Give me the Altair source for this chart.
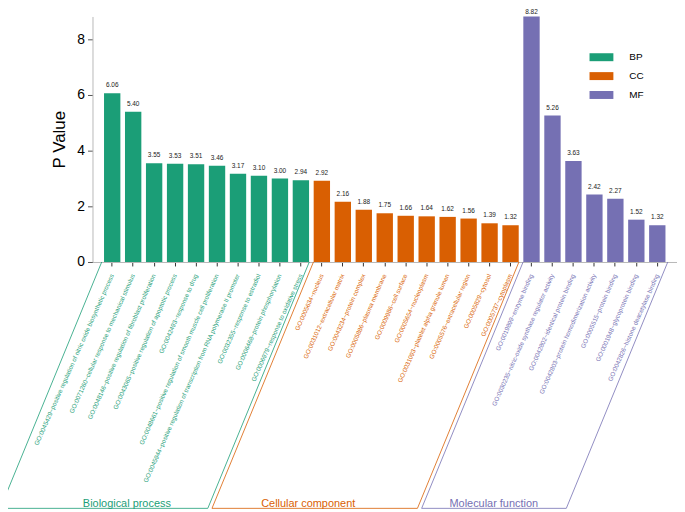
import json
import altair as alt
import pandas as pd

# ---------------- data ----------------
groups = ["BP", "CC", "MF"]
group_names = ["Biological process", "Cellular component", "Molecular function"]

terms_bp = [
    "GO:0045429~positive regulation of nitric oxide biosynthetic process",
    "GO:0071260~cellular response to mechanical stimulus",
    "GO:0048146~positive regulation of fibroblast proliferation",
    "GO:0043065~positive regulation of apoptotic process",
    "GO:0042493~response to drug",
    "GO:0048661~positive regulation of smooth muscle cell proliferation",
    "GO:0045944~positive regulation of transcription from RNA polymerase II promoter",
    "GO:0032355~response to estradiol",
    "GO:0006468~protein phosphorylation",
    "GO:0006979~response to oxidative stress",
]
values_bp = [6.06, 5.40, 3.55, 3.53, 3.51, 3.46, 3.17, 3.10, 3.00, 2.94]

terms_cc = [
    "GO:0005634~nucleus",
    "GO:0031012~extracellular matrix",
    "GO:0043234~protein complex",
    "GO:0005886~plasma membrane",
    "GO:0009986~cell surface",
    "GO:0005654~nucleoplasm",
    "GO:0031093~platelet alpha granule lumen",
    "GO:0005576~extracellular region",
    "GO:0005829~cytosol",
    "GO:0005737~cytoplasm",
]
values_cc = [2.92, 2.16, 1.88, 1.75, 1.66, 1.64, 1.62, 1.56, 1.39, 1.32]

terms_mf = [
    "GO:0019899~enzyme binding",
    "GO:0030235~nitric-oxide synthase regulator activity",
    "GO:0042802~identical protein binding",
    "GO:0042803~protein homodimerization activity",
    "GO:0005515~protein binding",
    "GO:0001948~glycoprotein binding",
    "GO:0042826~histone deacetylase binding",
]
values_mf = [8.82, 5.26, 3.63, 2.42, 2.27, 1.52, 1.32]

# where the group caption sits along the bottom of each bracket (bar-index units)
group_label_pos = [0.7, 9.35, 18.2]

# ---------------- style ----------------
colors = ["#1b9e77", "#d95f02", "#7570b3"]
FONT = "Liberation Sans"
W, H = 588, 247
P_IN, P_OUT = 0.22, 0.55
BRACKET_DX = 4.84      # horizontal lean of bracket sides (bar-index units)
BRACKET_DEPTH = 8.85   # depth of bracket below axis (y units)
GAP = 0.1

all_terms = terms_bp + terms_cc + terms_mf
all_vals = values_bp + values_cc + values_mf
all_groups = ["BP"] * len(terms_bp) + ["CC"] * len(terms_cc) + ["MF"] * len(terms_mf)
df = pd.DataFrame({"term": all_terms, "value": all_vals, "group": all_groups})
df["label"] = df["value"].map(lambda v: f"{v:.2f}")

ymax = max(all_vals)
yscale = alt.Scale(domain=[0, ymax], nice=False, zero=True)
color_scale = alt.Scale(domain=groups, range=colors)
xband = alt.Scale(domain=all_terms, paddingInner=P_IN, paddingOuter=P_OUT)

# bracket outlines
sizes = [len(terms_bp), len(terms_cc), len(terms_mf)]
rows = []
start = 0
for gi, (g, n) in enumerate(zip(groups, sizes)):
    left = start - 0.5 + (GAP if gi > 0 else 0)
    right = start + n - 0.5 - (GAP if gi < len(groups) - 1 else 0)
    pts = [(left, 0), (left - BRACKET_DX, -BRACKET_DEPTH),
           (right - BRACKET_DX, -BRACKET_DEPTH), (right, 0)]
    for k, (bx, by) in enumerate(pts):
        rows.append({"group": g, "ord": k, "bx": bx, "by": by})
    start += n
bdf = pd.DataFrame(rows)
gdf = pd.DataFrame({"group": groups, "name": group_names,
                    "bx": group_label_pos, "by": [-BRACKET_DEPTH] * 3})

n_all = len(all_terms)
lo = -(P_OUT + 0.5 - P_IN / 2)
hi = n_all - 0.5 + P_OUT - P_IN / 2
xlin = alt.Scale(domain=[lo, hi], nice=False, zero=False)

label_color = {
    "condition": [
        {"test": "indexof(" + json.dumps(terms_bp) + ", datum.value) >= 0", "value": colors[0]},
        {"test": "indexof(" + json.dumps(terms_cc) + ", datum.value) >= 0", "value": colors[1]},
    ],
    "value": colors[2],
}

xaxis = alt.Axis(
    title=None, labelAngle=294, labelAlign="right", labelBaseline="middle",
    labelFontSize=6.3, labelFont=FONT, labelLimit=400, labelPadding=8,
    labelColor=label_color, tickSize=4, tickColor="#333333",
    domainColor="#b8b8b8", labelOverlap=False,
)
yaxis = alt.Axis(
    title="P Value", values=[0, 2, 4, 6, 8], grid=False, labelFontSize=14,
    labelFont=FONT, titleFont=FONT, titleFontSize=17, titleFontWeight="normal",
    titleColor="black", labelColor="black", tickSize=5, tickColor="#555555",
    domainColor="#b8b8b8", labelPadding=3, titlePadding=8,
)

bars = alt.Chart(df).mark_bar().encode(
    x=alt.X("term:N", scale=xband, sort=None, axis=xaxis),
    y=alt.Y("value:Q", scale=yscale, axis=yaxis),
    color=alt.Color("group:N", scale=color_scale, legend=alt.Legend(
        title=None, orient="none", legendX=504, legendY=33, padding=0,
        symbolType="M-1.5,-0.5H1.5V0.5H-1.5Z", symbolSize=256,
        symbolStrokeWidth=0, labelFontSize=10, labelFont=FONT,
        labelColor="black", labelOffset=20, rowPadding=6)),
)
text_base = alt.Chart(df).encode(
    x=alt.X("term:N", scale=xband, sort=None, axis=xaxis),
    y=alt.Y("value:Q", scale=yscale, axis=yaxis),
    text="label:N",
)
vals = text_base.transform_filter(f"datum.value < {ymax}").mark_text(
    fontSize=6.5, font=FONT, color="#222222", baseline="middle", dy=-8)
vals_top = text_base.transform_filter(f"datum.value >= {ymax}").mark_text(
    fontSize=6.5, font=FONT, color="#222222", baseline="middle", dy=-4)

brackets = alt.Chart(bdf).mark_line(strokeWidth=0.8, clip=False).encode(
    x=alt.X("bx:Q", scale=xlin, axis=None),
    y=alt.Y("by:Q", scale=yscale, axis=yaxis),
    color=alt.Color("group:N", scale=color_scale, legend=None),
    detail="group:N",
    order="ord:Q",
)
gtext = alt.Chart(gdf).mark_text(fontSize=11, font=FONT, baseline="alphabetic",
                                 align="center", dy=-1, clip=False).encode(
    x=alt.X("bx:Q", scale=xlin, axis=None),
    y=alt.Y("by:Q", scale=yscale, axis=yaxis),
    color=alt.Color("group:N", scale=color_scale, legend=None),
    text="name:N",
)

chart = alt.layer(
    alt.layer(bars, vals, vals_top),
    alt.layer(brackets, gtext),
).resolve_scale(x="independent").properties(
    width=W, height=H,
    autosize=alt.AutoSizeParams(type="none"),
    padding={"left": 85, "top": 7, "right": 0, "bottom": 250},
).configure_view(stroke=None).configure_legend(padding=0)

chart.save("out.html", embed_options={"renderer": "svg", "actions": False})
